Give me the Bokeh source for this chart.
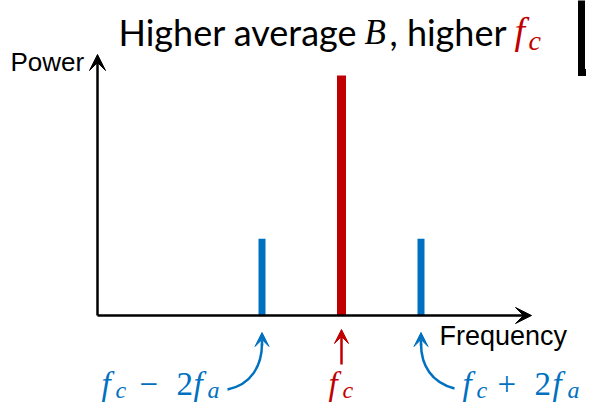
from bokeh.plotting import figure
from bokeh.models import Range1d, Arrow, VeeHead
from bokeh.core.properties import value
from bokeh.embed import file_html
from bokeh.resources import INLINE

# ---------------- data ----------------
# frequencies in units of f_a, measured from the carrier f_c
freq_offsets = [-2, 0, 2]
powers = [0.32, 1.0, 0.32]
bar_colors = ["#0070C0", "#C00000", "#0070C0"]
bar_widths = [7, 9, 7]
x_axis_label = "Frequency"
y_axis_label = "Power"

BLUE = "#0070C0"
RED = "#C00000"
SANS = "Liberation Sans"
TITLE_FONT = "Lato"
MATH = "Liberation Serif"

W, H = 586, 403
OX, OY = 0, 0               # reference pixel at the canvas corner
PX0, PXU = 341.0, 39.75     # pixel of f_c, pixels per f_a
PY0, PYU = 315.0, 240.0     # pixel of zero power, pixels per unit power
TEXT_DROP = 0.3             # text is drawn this many font sizes below its anchor


def dx(px):
    return (px - PX0) / PXU


def dy(py):
    return (PY0 - py) / PYU


p = figure(width=W, height=H, output_backend="svg", toolbar_location=None,
           x_range=Range1d(dx(OX), dx(OX + W)), y_range=Range1d(dy(OY + H), dy(OY)),
           min_border=0, x_axis_type=None, y_axis_type=None)
p.grid.visible = False
p.outline_line_color = None
p.background_fill_color = "white"
p.border_fill_color = "white"

# axes with arrow heads
ax_x0, ax_x1 = dx(97), dx(531)
ax_ytop = dy(54)
p.add_layout(Arrow(end=VeeHead(size=16, fill_color="black", line_color="black"),
                   x_start=ax_x0, y_start=0, x_end=ax_x1, y_end=0,
                   line_color="black", line_width=2.5))
p.add_layout(Arrow(end=VeeHead(size=16, fill_color="black", line_color="black"),
                   x_start=ax_x0, y_start=0, x_end=ax_x0, y_end=ax_ytop,
                   line_color="black", line_width=2.5))

# spectral lines
p.segment(x0=freq_offsets, y0=[0] * 3, x1=freq_offsets, y1=powers,
          line_color=bar_colors, line_width=bar_widths, line_cap="butt")


def piece(px, py, text, color, size, style="normal", font=MATH):
    p.text(x=[dx(px)], y=[dy(py - TEXT_DROP * size)], text=[text], text_font=value(font),
           text_font_size=f"{size}px", text_font_style=value(style),
           text_color=color, text_baseline="alphabetic", text_align="left")


# axis labels
piece(10, 69, y_axis_label, "black", 26, font=SANS)
piece(439, 344, x_axis_label, "black", 27, font=SANS)

# title: Higher average B, higher f_c
piece(118, 42, "Higher average", "black", 36, font=TITLE_FONT)
piece(364, 42, "B", "black", 35, "italic")
piece(389, 42, ", higher", "black", 36, font=TITLE_FONT)
piece(514, 42, "f", RED, 38, "italic")
piece(528, 48, "c", RED, 28, "italic")

# bottom labels
BL, SB = 393, 397
# f_c - 2 f_a
piece(101, BL, "f", BLUE, 33, "italic")
piece(115, SB, "c", BLUE, 24, "italic")
piece(139, BL, "\u2212", BLUE, 33)
piece(176, BL, "2", BLUE, 33)
piece(193, BL, "f", BLUE, 33, "italic")
piece(207, SB, "a", BLUE, 24, "italic")
# f_c
piece(328, BL, "f", RED, 33, "italic")
piece(342, SB, "c", RED, 24, "italic")
# f_c + 2 f_a
piece(462, BL, "f", BLUE, 33, "italic")
piece(476, SB, "c", BLUE, 24, "italic")
piece(497, BL, "+", BLUE, 33)
piece(534, BL, "2", BLUE, 33)
piece(552, BL, "f", BLUE, 33, "italic")
piece(567, SB, "a", BLUE, 24, "italic")

# pointer arrows from labels to lines
lx, cx, rx = freq_offsets
p.bezier(x0=[dx(227), dx(454)], y0=[dy(389), dy(388)],
         x1=[lx, rx], y1=[dy(343), dy(343)],
         cx0=[dx(251), dx(431)], cy0=[dy(384), dy(382)],
         cx1=[lx, rx], cy1=[dy(365), dy(365)],
         line_color=BLUE, line_width=2.5)
for xx in (lx, rx):
    p.add_layout(Arrow(end=VeeHead(size=14, fill_color=BLUE, line_color=BLUE),
                       x_start=xx, y_start=dy(345), x_end=xx, y_end=dy(332),
                       line_color=BLUE, line_width=2.5))
p.add_layout(Arrow(end=VeeHead(size=14, fill_color=RED, line_color=RED),
                   x_start=cx, y_start=dy(364), x_end=cx, y_end=dy(329),
                   line_color=RED, line_width=2.5))

# bracket fragment at top right
p.line(x=[dx(581), dx(581), dx(620)], y=[dy(-10), dy(72), dy(72)],
       line_color="black", line_width=7, line_join="miter")

open("out.html", "w").write(file_html(p, INLINE))
